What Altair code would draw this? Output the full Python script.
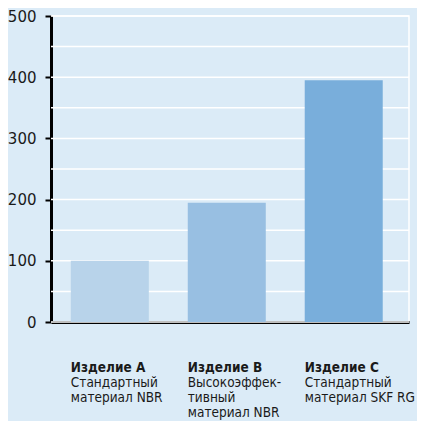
import altair as alt
import pandas as pd

categories = ["Изделие A", "Изделие B", "Изделие C"]
values = [100, 195, 395]
descriptions = [
    ["Стандартный", "материал NBR"],
    ["Высокоэффек-", "тивный", "материал NBR"],
    ["Стандартный", "материал SKF RG"],
]
colors = ["#b8d3ea", "#98bfe2", "#79aedb"]
grid_values = [0, 50, 100, 150, 200, 250, 300, 350, 400, 450, 500]
tick_values = [0, 100, 200, 300, 400, 500]

df = pd.DataFrame({"cat": categories, "val": values, "desc": descriptions, "color": colors})
grid_df = pd.DataFrame({"g": grid_values})

xscale = alt.Scale(domain=categories, paddingInner=0.333, paddingOuter=0.197, align=0.43)
yscale = alt.Scale(domain=[0, 500], nice=False)

xaxis = alt.Axis(labels=False, ticks=False, title=None, domainColor="black",
                 domainWidth=3, grid=False)
yaxis = alt.Axis(values=tick_values, title=None, domainColor="black", domainWidth=3,
                 tickColor="black", tickWidth=2, tickSize=6, labelFontSize=15,
                 labelFont="DejaVu Sans", labelColor="#1a1a1a", labelPadding=9,
                 grid=False)

grid = alt.Chart(grid_df).mark_rule(color="white", strokeWidth=1.5).encode(
    y=alt.Y("g:Q", scale=yscale, axis=yaxis)
)

bars = alt.Chart(df).mark_bar().encode(
    x=alt.X("cat:N", scale=xscale, sort=categories, axis=xaxis),
    y=alt.Y("val:Q", scale=yscale, axis=yaxis),
    color=alt.Color("color:N", scale=None),
)

bold = alt.Chart(df).mark_text(
    align="left", baseline="alphabetic", dx=-39, fontSize=13.5, fontWeight="bold",
    font="DejaVu Sans Condensed", color="#1a1a1a"
).encode(
    x=alt.X("cat:N", scale=xscale, sort=categories, axis=xaxis),
    y=alt.value(356),
    text="cat:N",
)

desc = alt.Chart(df).mark_text(
    align="left", baseline="alphabetic", dx=-39, fontSize=13.5, lineHeight=15,
    font="DejaVu Sans Condensed", color="#1a1a1a"
).encode(
    x=alt.X("cat:N", scale=xscale, sort=categories, axis=xaxis),
    y=alt.value(371),
    text="desc",
)

chart = alt.layer(grid, bars, bold, desc).properties(
    width=358, height=306,
    background="#dbebf7",
    autosize=alt.AutoSizeParams(type="none"),
    padding={"left": 43, "top": 8, "right": 8, "bottom": 99},
).configure_view(fill="#dbebf7", stroke="white", strokeWidth=1.5)

chart.save("out.html", embed_options={"renderer": "svg", "actions": False})
